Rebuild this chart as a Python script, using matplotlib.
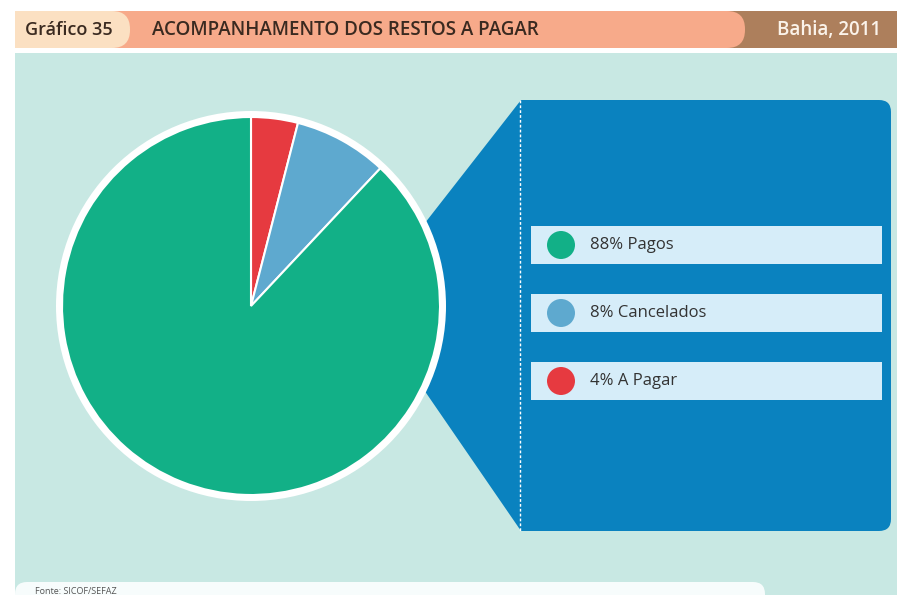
import matplotlib.pyplot as plt
from matplotlib.patches import Rectangle, FancyBboxPatch, Polygon, Circle

# dados
categorias = ['Pagos', 'Cancelados', 'A Pagar']
percentuais = [88, 8, 4]
cores = ['#12b087', '#5ea9cf', '#e63a40']
titulo = 'ACOMPANHAMENTO DOS RESTOS A PAGAR'
grafico = 'Gráfico 35'
local = 'Bahia, 2011'
fonte = 'Fonte: SICOF/SEFAZ'

plt.rcParams['font.family'] = ['Open Sans', 'DejaVu Sans']

W, H = 897, 595
fig = plt.figure(figsize=(W / 100, H / 100), dpi=100)
ax = fig.add_axes([0, 0, 1, 1])
ax.set_xlim(0, W)
ax.set_ylim(0, H)
ax.set_aspect('equal')
ax.axis('off')


def y(p):
    # converte y em pixels (de cima) para coordenada do eixo
    return H - p


# cabeçalho
ax.add_patch(Rectangle((715, y(48)), W - 715, 37, fc='#ad7f5c', ec='none', zorder=1))
ax.add_patch(FancyBboxPatch((15, y(48)), 730, 37, boxstyle='round,pad=0,rounding_size=18',
                            fc='#f7aa8a', ec='none', zorder=2))
ax.add_patch(FancyBboxPatch((15, y(48)), 115, 37, boxstyle='round,pad=0,rounding_size=18',
                            fc='#fbe0c2', ec='none', zorder=3))
ax.add_patch(Rectangle((15, y(48)), 60, 37, fc='#fbe0c2', ec='none', zorder=3))
ax.text(25, y(30), grafico, fontsize=13, fontweight='semibold', color='#3a2a20',
        va='center', ha='left', zorder=4)
ax.text(152, y(30), titulo, fontsize=13.5, fontweight='semibold', color='#3a2a20',
        va='center', ha='left', zorder=4)
ax.text(881, y(30), local, fontsize=13.5, fontweight='semibold', color='#fbf3ea',
        va='center', ha='right', zorder=4)

# fundo
ax.add_patch(Rectangle((15, 0), W - 15, y(53), fc='#c8e8e3', ec='none', zorder=0))

# painel azul
azul = '#0a82bf'
ax.add_patch(Polygon([(521, y(100)), (400, y(255)), (400, y(355)), (521, y(531))],
                     closed=True, fc=azul, ec='none', zorder=1))
ax.add_patch(FancyBboxPatch((521, y(531)), 370, 431, boxstyle='round,pad=0,rounding_size=12',
                            fc=azul, ec='none', zorder=1))
ax.add_patch(Rectangle((521, y(531)), 20, 431, fc=azul, ec='none', zorder=1))
ax.plot([520, 520], [y(100), y(531)], color='white', lw=1, ls=(0, (2, 1.5)), zorder=2)

# pizza
cx, cy, r = 251, y(306), 189
ax.add_patch(Circle((cx, cy), r + 6, fc='white', ec='none', zorder=3))
ordem = [2, 1, 0]
wedges, _ = ax.pie([percentuais[i] for i in ordem], colors=[cores[i] for i in ordem],
                   startangle=90, counterclock=False, center=(cx, cy), radius=r,
                   wedgeprops=dict(edgecolor='white', linewidth=1.5), frame=True)
for w in wedges:
    w.set_zorder(4)
ax.set_xlim(0, W)
ax.set_ylim(0, H)
ax.axis('off')

# legenda
linhas = [245, 313, 381]
for i, yy in enumerate(linhas):
    ax.add_patch(Rectangle((531, y(yy + 19)), 351, 38, fc='#d6edf9', ec='none', zorder=2))
    ax.add_patch(Circle((561, y(yy)), 14, fc=cores[i], ec='none', zorder=3))
    ax.text(590, y(yy), f'{percentuais[i]}% {categorias[i]}', fontsize=12,
            color='#333333', va='center', ha='left', zorder=3)

# rodapé
ax.add_patch(FancyBboxPatch((15, -20), 750, y(582) + 20, boxstyle='round,pad=0,rounding_size=12',
                            fc='#f7fcfc', ec='none', zorder=1))
ax.text(35, y(592), fonte, fontsize=6.5, color='#555555', va='center', ha='left', zorder=2)

fig.savefig('out.png', dpi=100, facecolor='white')
